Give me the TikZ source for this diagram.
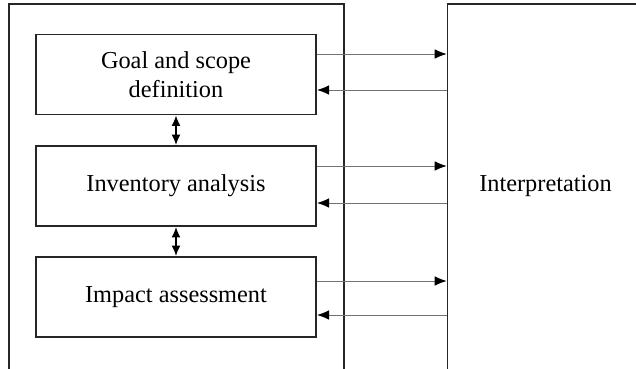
\documentclass[tikz,border=0pt]{standalone}
\usepackage{fontspec}
\setmainfont{Liberation Serif}
\usetikzlibrary{arrows.meta, positioning, calc}

\begin{document}
\begin{tikzpicture}[x=0.025cm, y=-0.025cm,
    frame/.style={draw=black!85, line width=1.1pt, inner sep=0pt},
    stage/.style={draw=black!85, line width=1.4pt, minimum width=7cm, minimum height=2cm,
                  align=center, font=\fontsize{17.3}{20.6}\selectfont},
    flow/.style={draw=black!55, line width=0.7pt,
                 -{Latex[length=0.3cm, width=0.24cm, color=black]}},
    link/.style={draw=black, line width=0.8pt,
                 {Latex[length=0.26cm, width=0.22cm]}-{Latex[length=0.26cm, width=0.22cm]}}]

    \useasboundingbox (0,0) rectangle (636,368);
    \clip (0,0) rectangle (636,368);

    % outer frames
    \node[frame, minimum width=8.375cm, minimum height=9.4cm] (lca) at (176.5,192) {};
    \node[frame, minimum width=4.9cm, minimum height=9.4cm] (interp) at (545.5,192) {};
    \node[font=\fontsize{17.3}{20.6}\selectfont] (interptext) at (545.5,186) {Interpretation};

    % phases
    \node[stage] (goal) at (176,74.5) {Goal and scope\\definition};
    \node[stage] (inv)  at (176,186)  {Inventory analysis};
    \node[stage] (imp)  at (176,297)  {Impact assessment};

    % links between phases
    \draw[link] (goal.south) -- (inv.north);
    \draw[link] (inv.south) -- (imp.north);

    % links to interpretation
    \foreach \b/\yr/\yl in {goal/54/90, inv/166/203, imp/281/315}{
        \draw[flow] (\b.east |- 0,\yr) -- (interp.west |- 0,\yr);
        \draw[flow] (interp.west |- 0,\yl) -- (\b.east |- 0,\yl);
    }

\end{tikzpicture}
\end{document}
